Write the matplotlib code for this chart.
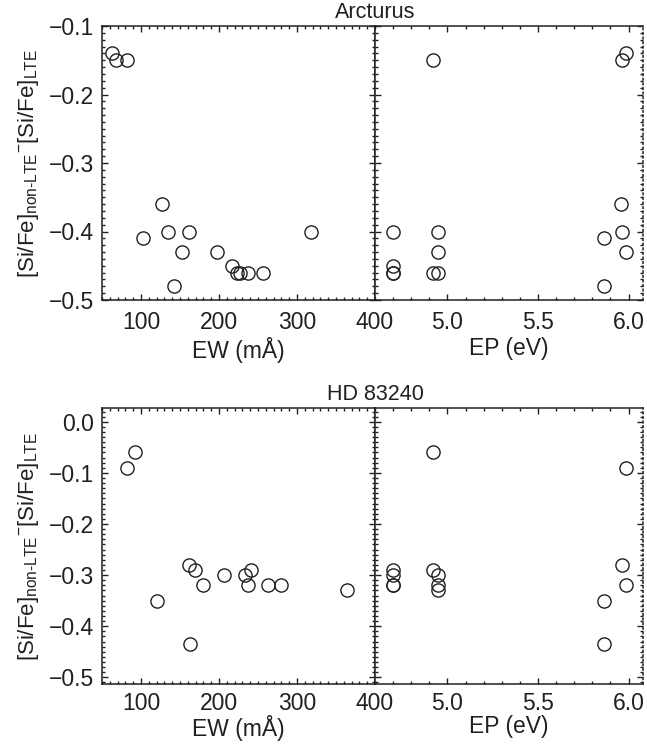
import matplotlib
matplotlib.use("Agg")
import matplotlib.pyplot as plt
from matplotlib.ticker import MultipleLocator, FuncFormatter

plt.rcParams['font.family'] = ['Liberation Sans', 'DejaVu Sans']
plt.rcParams['mathtext.fontset'] = 'custom'
plt.rcParams['mathtext.rm'] = 'Liberation Sans'
plt.rcParams['mathtext.it'] = 'Liberation Sans:italic'
plt.rcParams['mathtext.bf'] = 'Liberation Sans:bold'

# ---- data: Arcturus ----
arc_ew = [63, 68, 82, 103, 127, 134, 161, 153, 142, 197, 217, 223, 227, 237, 257, 318]
arc_ew_d = [-0.14, -0.15, -0.15, -0.41, -0.36, -0.40, -0.40, -0.43, -0.48, -0.43,
            -0.45, -0.46, -0.46, -0.46, -0.46, -0.40]
arc_ep = [4.92, 4.70, 4.70, 4.70, 4.70, 4.92, 4.95, 4.95, 4.95, 5.985, 5.966, 5.957,
          5.966, 5.985, 5.865, 5.865]
arc_ep_d = [-0.15, -0.40, -0.45, -0.46, -0.46, -0.46, -0.46, -0.40, -0.43, -0.14,
            -0.15, -0.36, -0.40, -0.43, -0.41, -0.48]

# ---- data: HD 83240 ----
hd_ew = [82, 92, 120, 162, 169, 179, 207, 233, 241, 237, 263, 279, 364, 163]
hd_ew_d = [-0.09, -0.06, -0.35, -0.28, -0.29, -0.32, -0.30, -0.30, -0.29, -0.32,
           -0.32, -0.32, -0.33, -0.435]
hd_ep = [4.92, 5.985, 4.70, 4.70, 4.70, 4.70, 4.92, 4.95, 4.95, 4.95, 5.966, 5.985,
         5.865, 5.865]
hd_ep_d = [-0.06, -0.09, -0.29, -0.30, -0.32, -0.32, -0.29, -0.30, -0.32, -0.33,
           -0.28, -0.32, -0.35, -0.435]

titles = ["Arcturus", "HD 83240"]
ew_ticks = [100, 200, 300, 400]
ep_ticks = [5.0, 5.5, 6.0]
ylab = r'[Si/Fe]$_{\mathrm{non\text{-}LTE}}$$^{-}$[Si/Fe]$_{\mathrm{LTE}}$'

W, H = 647, 747
fig = plt.figure(figsize=(W / 100, H / 100), dpi=100)

FS = 16.5
C = '#231f20'
x0, xm, x1 = 102, 375, 643
panels = [
    dict(top=26, bot=300, ylim=(-0.5, -0.1), yticks=[-0.1, -0.2, -0.3, -0.4, -0.5],
         ew=arc_ew, ewd=arc_ew_d, ep=arc_ep, epd=arc_ep_d, title=titles[0], lp=2, xp=8),
    dict(top=408, bot=684, ylim=(-0.513, 0.027), yticks=[0.0, -0.1, -0.2, -0.3, -0.4, -0.5],
         ew=hd_ew, ewd=hd_ew_d, ep=hd_ep, epd=hd_ep_d, title=titles[1], lp=0, xp=6),
]

mk = dict(marker='o', linestyle='none', markerfacecolor='none', markeredgecolor=C,
          markersize=9.5, markeredgewidth=1.0)


def fmt1(v, pos):
    s = '%.1f' % v
    if s == '-0.0':
        s = '0.0'
    return s.replace('-', '\u2212')


for p in panels:
    b = 1 - p['bot'] / H
    h = (p['bot'] - p['top']) / H
    axL = fig.add_axes([x0 / W, b, (xm - x0) / W, h])
    axR = fig.add_axes([xm / W, b, (x1 - xm) / W, h])

    axL.plot(p['ew'], p['ewd'], **mk)
    axR.plot(p['ep'], p['epd'], **mk)

    axL.set_xlim(50, 400)
    axR.set_xlim(4.6, 6.08)
    for ax in (axL, axR):
        ax.set_ylim(*p['ylim'])
        ax.yaxis.set_minor_locator(MultipleLocator(0.01))
        ax.tick_params(which='both', direction='in', top=True, right=True,
                       labelsize=FS, width=1.0, colors=C)
        ax.tick_params(which='major', length=4.5)
        ax.tick_params(which='minor', length=2.2)
        ax.tick_params(axis='x', which='major', pad=p['xp'])
        ax.tick_params(axis='y', which='major', pad=6)
        for s in ax.spines.values():
            s.set_linewidth(1.1)
            s.set_color(C)
    axL.set_xticks(ew_ticks)
    axL.xaxis.set_minor_locator(MultipleLocator(10))
    axL.set_yticks(p['yticks'])
    axL.yaxis.set_major_formatter(FuncFormatter(fmt1))
    axR.set_xticks(ep_ticks)
    axR.xaxis.set_major_formatter(FuncFormatter(fmt1))
    axR.xaxis.set_minor_locator(MultipleLocator(0.1))
    axR.set_yticks(p['yticks'])
    axR.tick_params(labelleft=False)
    axR.spines['right'].set_linestyle((0, (1, 2)))

    axL.set_xlabel('EW (mÅ)', fontsize=FS, labelpad=p['lp'], color=C)
    axR.set_xlabel('EP (eV)', fontsize=FS, labelpad=p['lp'], color=C)
    axL.set_ylabel(ylab, fontsize=16, labelpad=5, color=C)
    fig.text(xm / W, 1 - (p['top'] - 14) / H, p['title'], ha='center', va='center',
             fontsize=15.5, color=C)

fig.savefig('out.png', dpi=100)
